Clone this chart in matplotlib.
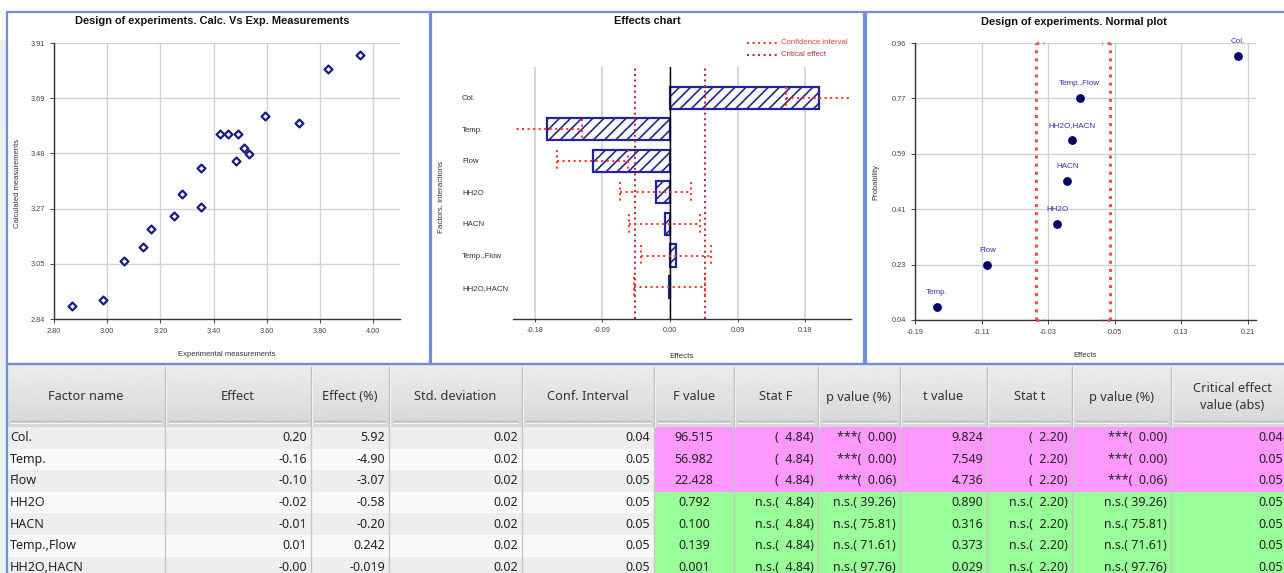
import matplotlib
matplotlib.use("Agg")
import matplotlib.pyplot as plt
import numpy as np
from matplotlib.patches import Rectangle
from matplotlib.lines import Line2D

W, H = 1284, 573

# calculated vs experimental measurements
exp_meas = [2.866, 2.985, 3.064, 3.135, 3.164, 3.251, 3.281, 3.353, 3.353, 3.423,
            3.453, 3.490, 3.483, 3.513, 3.533, 3.591, 3.721, 3.830, 3.948]
calc_meas = [2.890, 2.914, 3.066, 3.118, 3.188, 3.239, 3.325, 3.273, 3.425, 3.558,
             3.558, 3.558, 3.453, 3.504, 3.480, 3.627, 3.601, 3.808, 3.862]
calc_xticks = [2.80, 3.00, 3.20, 3.40, 3.60, 3.80, 4.00]
calc_ylabels = ["2.84", "3.05", "3.27", "3.48", "3.69", "3.91"]

# effects of factors and interactions
factor_names = ["Col.", "Temp.", "Flow", "HH2O", "HACN", "Temp.,Flow", "HH2O,HACN"]
effects = [0.198, -0.164, -0.103, -0.019, -0.007, 0.008, -0.001]
effect_pct = ["5.92", "-4.90", "-3.07", "-0.58", "-0.20", "0.242", "-0.019"]
std_dev = [0.02, 0.02, 0.02, 0.02, 0.02, 0.02, 0.02]
conf_int = [0.044, 0.047, 0.047, 0.047, 0.047, 0.047, 0.047]
critical_line = 0.047
effect_xticks = [-0.18, -0.09, 0.00, 0.09, 0.18]

# normal probability plot
normal_prob = [0.916, 0.084, 0.222, 0.360, 0.500, 0.776, 0.638]
normal_band = 0.044
normal_xticks = [-0.19, -0.11, -0.03, 0.05, 0.13, 0.21]
normal_ylabels = ["0.04", "0.23", "0.41", "0.59", "0.77", "0.96"]

# statistics table
f_values = [96.515, 56.982, 22.428, 0.792, 0.100, 0.139, 0.001]
stat_f = 4.84
p_f = [0.00, 0.00, 0.06, 39.26, 75.81, 71.61, 97.76]
t_values = [9.824, 7.549, 4.736, 0.890, 0.316, 0.373, 0.029]
stat_t = 2.20
p_t = [0.00, 0.00, 0.06, 39.26, 75.81, 71.61, 97.76]
critical_effect = [0.044, 0.047, 0.047, 0.047, 0.047, 0.047, 0.047]
headers = ["Factor name", "Effect", "Effect (%)", "Std. deviation", "Conf. Interval",
           "F value", "Stat F", "p value (%)", "t value", "Stat t", "p value (%)",
           "Critical effect\nvalue (abs)"]

plt.rcParams["font.family"] = ["Liberation Sans", "DejaVu Sans"]
plt.rcParams["hatch.linewidth"] = 1.2

BLUE_BORDER = "#6f90d6"
NAVY = "#24249a"
GRID = "#d2d2d2"
TICK = "#444444"

fig = plt.figure(figsize=(W / 100, H / 100), dpi=100, facecolor="white")


def box(x0, y0, x1, y1):
    return [x0 / W, 1 - y1 / H, (x1 - x0) / W, (y1 - y0) / H]


def panel(x0, y0, x1, y1):
    r = Rectangle((x0 / W, 1 - y1 / H), (x1 - x0) / W, (y1 - y0) / H,
                  transform=fig.transFigure, facecolor="none",
                  edgecolor=BLUE_BORDER, lw=1.6, zorder=10)
    fig.add_artist(r)


def title(x, y, s):
    fig.text(x / W, 1 - y / H, s, ha="center", va="center",
             fontsize=7.9, fontweight="bold", color="#111111")


def style_axes(ax):
    for side in ("top", "right"):
        ax.spines[side].set_visible(False)
    for side in ("left", "bottom"):
        ax.spines[side].set_color("#333333")
        ax.spines[side].set_linewidth(1.0)
    ax.tick_params(labelsize=5.3, colors=TICK, length=3, width=0.7)
    ax.set_axisbelow(True)


# page strip on the far left
fig.add_artist(Rectangle((0, 0), 6 / W, 1 - 40 / H, transform=fig.transFigure,
                         facecolor="#e9f0fa", edgecolor="none", zorder=-2))

# ---- calculated vs experimental ----
ax1 = fig.add_axes(box(54, 43, 400, 319))
ax1.scatter(exp_meas, calc_meas, marker="D", s=16, facecolor="white",
            edgecolor="#1a1a8a", linewidth=1.6, zorder=3)
ax1.set_xlim(2.80, 4.10)
ax1.set_ylim(2.84, 3.91)
ax1.set_xticks(calc_xticks)
ax1.set_xticklabels([f"{v:.2f}" for v in calc_xticks])
ax1.set_yticks(np.linspace(2.84, 3.91, len(calc_ylabels)))
ax1.set_yticklabels(calc_ylabels)
ax1.grid(color=GRID, lw=1.0)
style_axes(ax1)
ax1.set_xlabel("Experimental measurements", fontsize=5.5, color="#333333")
ax1.xaxis.set_label_coords(0.5, -0.116)
ax1.set_ylabel("Calculated measurements", fontsize=5.5, color="#333333")
ax1.yaxis.set_label_coords(-0.096, 0.49)
title(212, 21, "Design of experiments. Calc. Vs Exp. Measurements")

# ---- effects chart ----
ax2 = fig.add_axes(box(513, 67, 851, 319))
ypos = np.arange(len(factor_names))
eff = np.array(effects)
ci = np.array(conf_int)
ax2.barh(ypos, eff, height=0.7, color="white", edgecolor=NAVY,
         hatch="///", linewidth=1.6, zorder=3)
lo, hi = eff - ci, eff + ci
ci_color = "#ff3636"
ax2.hlines(ypos, lo, hi, colors=ci_color, linestyles=":", lw=1.5, zorder=5)
ax2.vlines(lo, ypos - 0.33, ypos + 0.33, colors=ci_color, linestyles=":", lw=1.5, zorder=5)
ax2.vlines(hi, ypos - 0.33, ypos + 0.33, colors=ci_color, linestyles=":", lw=1.5, zorder=5)
crit_color = "#b8303a"
ax2.axvline(-critical_line, color=crit_color, ls=":", lw=1.5, zorder=4)
ax2.axvline(critical_line, color=crit_color, ls=":", lw=1.5, zorder=4)
ax2.axvline(0, color="black", lw=1.0, zorder=3.5)
ax2.set_xlim(-0.209, 0.241)
ax2.set_ylim(7.01, -0.97)
ax2.set_xticks(effect_xticks)
ax2.set_xticklabels([f"{v:.2f}" for v in effect_xticks])
ax2.grid(axis="x", color=GRID, lw=1.2)
style_axes(ax2)
ax2.spines["left"].set_visible(False)
ax2.set_yticks(ypos)
ax2.set_yticklabels(factor_names)
ax2.tick_params(axis="y", length=0, pad=36.7, labelsize=5.7, colors="#333333")
ax2.tick_params(axis="x", length=2)
for lab in ax2.get_yticklabels():
    lab.set_horizontalalignment("left")
ax2.set_xlabel("Effects", fontsize=5.8, color="#333333")
ax2.xaxis.set_label_coords(0.5, -0.134)
ax2.set_ylabel("Factors, interactions", fontsize=5.8, color="#333333")
ax2.yaxis.set_label_coords(-0.204, 0.484)
title(647, 21, "Effects chart")

# legend drawn in figure pixels
for yy, col, lab in [(43, ci_color, "Confidence interval"), (55, crit_color, "Critical effect")]:
    fig.add_artist(Line2D([747 / W, 778 / W], [1 - yy / H, 1 - yy / H],
                          transform=fig.transFigure, color=col, ls=":", lw=1.5))
    fig.text(781 / W, 1 - yy / H, lab, fontsize=5.6, color=col, va="center", ha="left")

# ---- normal plot ----
ax3 = fig.add_axes(box(915, 43, 1256, 320))
band_color = "#ff4a4a"
for sign in (-1, 1):
    xv = sign * normal_band
    ax3.axvline(xv, color=band_color, ls=":", lw=2.2, zorder=4)
    ax3.hlines([0.04, 0.96], xv, xv - sign * 0.009, colors=band_color,
               linestyles=":", lw=2.0, zorder=4, clip_on=False)
ax3.scatter(effects, normal_prob, s=28, color="#000066", zorder=5)
for name, xv, yv in zip(factor_names, effects, normal_prob):
    ax3.annotate(name, (xv, yv), xytext=(0, 10.5), textcoords="offset points",
                 ha="center", va="center", fontsize=5.8, color="#3535b0",
                 annotation_clip=False)
ax3.set_xlim(-0.19, 0.22)
ax3.set_ylim(0.04, 0.96)
ax3.set_xticks(normal_xticks)
ax3.set_xticklabels([f"{v:.2f}" for v in normal_xticks])
ax3.set_yticks(np.linspace(0.04, 0.96, len(normal_ylabels)))
ax3.set_yticklabels(normal_ylabels)
ax3.grid(color=GRID, lw=1.0)
style_axes(ax3)
ax3.set_xlabel("Effects", fontsize=5.5, color="#333333")
ax3.xaxis.set_label_coords(0.5, -0.115)
ax3.set_ylabel("Probability", fontsize=5.5, color="#333333")
ax3.yaxis.set_label_coords(-0.105, 0.5)
title(1074, 22, "Design of experiments. Normal plot")

panel(7, 12, 430, 364)
panel(431, 12, 864, 364)
panel(866, 12, 1292, 364)

# ---- statistics table ----
axt = fig.add_axes(box(0, 364, W, H))
axt.set_xlim(0, W)
axt.set_ylim(H, 364)
axt.axis("off")
axt.patch.set_alpha(0)

col_edges = [7, 165, 311, 389, 522, 654, 734, 818, 900, 987, 1072, 1171, 1294]
head_top, head_bot = 365, 427
row_h = 21.6

grad = np.linspace(0.925, 0.84, 60)[:, None]
axt.imshow(grad, extent=(7, 1294, head_bot, head_top), aspect="auto",
           cmap="gray", vmin=0, vmax=1, zorder=1)
axt.set_xlim(0, W)
axt.set_ylim(H, 364)

table_font = ["Noto Sans", "DejaVu Sans"]
for j, lab in enumerate(headers):
    x0, x1 = col_edges[j], col_edges[j + 1]
    axt.text((x0 + x1) / 2, (head_top + head_bot) / 2 + 1, lab, ha="center",
             va="center", fontsize=9.2, color="#333333", family=table_font,
             linespacing=1.35, zorder=3)
    axt.plot([x0 + 4, x1 - 4], [421, 421], color="#bdbdbd", lw=1.0, zorder=2)
    axt.plot([x0 + 4, x1 - 4], [422.5, 422.5], color="#f4f4f4", lw=0.8, zorder=2)
    if j > 0:
        axt.plot([x0, x0], [head_top + 2, head_bot], color="#bcbcbc", lw=1.0, zorder=2)
        axt.plot([x0 + 1.2, x0 + 1.2], [head_top + 2, head_bot], color="#f2f2f2", lw=0.8, zorder=2)

pink, green = "#ff99ff", "#99ff99"
for i, name in enumerate(factor_names):
    top = head_bot + i * row_h
    ymid = top + row_h / 2
    sig = p_f[i] < 5.0
    base = "#eeeeee" if i % 2 == 0 else "#f9f9f9"
    axt.add_patch(Rectangle((7, top), col_edges[5] - 7, row_h, facecolor=base,
                            edgecolor="none", zorder=1))
    axt.add_patch(Rectangle((col_edges[5], top), col_edges[-1] - col_edges[5], row_h,
                            facecolor=pink if sig else green, edgecolor="none", zorder=1))
    tag = "" if sig else "n.s."
    ptag = "***" if sig else "n.s."
    cells = [
        name,
        f"{effects[i]:.2f}",
        effect_pct[i],
        f"{std_dev[i]:.2f}",
        f"{conf_int[i]:.2f}",
        f"{f_values[i]:.3f}",
        f"{tag}({stat_f:6.2f})",
        f"{ptag}({p_f[i]:6.2f})",
        f"{t_values[i]:.3f}",
        f"{tag}({stat_t:6.2f})",
        f"{ptag}({p_t[i]:6.2f})",
        f"{critical_effect[i]:.2f}",
    ]
    for j, s in enumerate(cells):
        x0, x1 = col_edges[j], col_edges[j + 1]
        if j == 0:
            xt, ha = x0 + 3, "left"
        elif j == 5:
            xt, ha = (x0 + x1) / 2, "center"
        elif j == len(cells) - 1:
            xt, ha = W - 1, "right"
        else:
            xt, ha = x1 - 4, "right"
        axt.text(xt, ymid, s, ha=ha, va="center", fontsize=9.0,
                 color="#222222", family=table_font, zorder=3)

for x in col_edges[1:-1]:
    axt.plot([x, x], [head_bot, H + 5], color="#c6c6c6", lw=1.0, zorder=2)

panel(7, 364, 1292, 600)

fig.savefig("out.png", dpi=100, facecolor=fig.get_facecolor())
